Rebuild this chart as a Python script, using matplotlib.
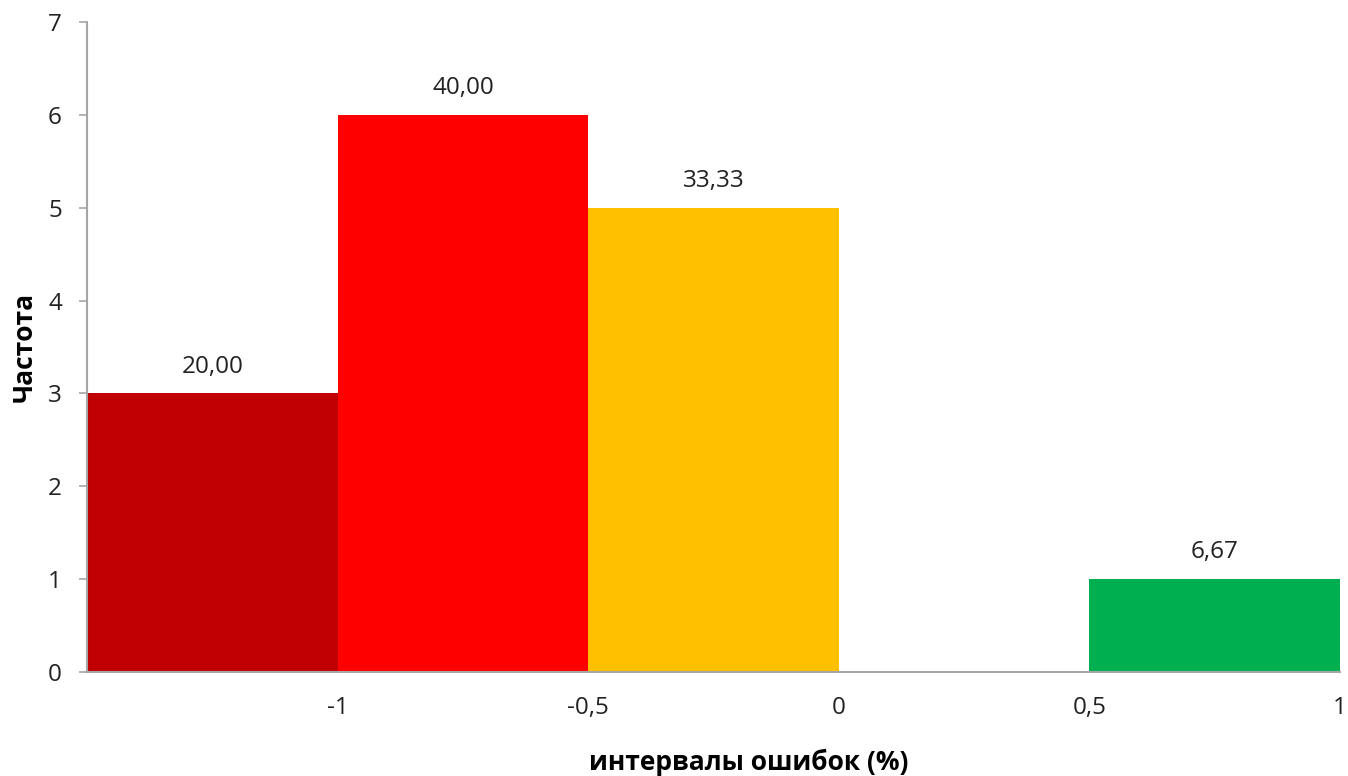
import matplotlib
matplotlib.use("Agg")
import matplotlib.pyplot as plt

bins = ["<-1", "-1..-0,5", "-0,5..0", "0..0,5", "0,5..1"]
freq = [3, 6, 5, 0, 1]
pct_labels = ["20,00", "40,00", "33,33", "", "6,67"]
edge_labels = ["-1", "-0,5", "0", "0,5", "1"]
colors = ["#C00000", "#FF0000", "#FFC000", "#FFFFFF", "#00B050"]

plt.rcParams['font.family'] = ['Open Sans', 'DejaVu Sans']

fig = plt.figure(figsize=(13.48, 7.76), dpi=100)
ax = fig.add_axes([87/1348, 1-672/776, (1340-87)/1348, (672-22)/776])

x = list(range(len(bins)))
ax.bar(x, freq, width=1.0, align='edge', color=colors, edgecolor='none')
for xi, f, lab in zip(x, freq, pct_labels):
    if lab:
        ax.text(xi + 0.5, f + 0.16, lab, ha='center', va='bottom', fontsize=17.5, color='#222222')

ax.set_xlim(0, len(bins))
ax.set_ylim(0, 7)
ax.set_yticks(range(0, 8))
ax.set_xticks([xi + 1 for xi in x])
ax.set_xticklabels(edge_labels)
ax.tick_params(axis='x', length=0, pad=17, labelsize=17.5, colors='#222222')
ax.tick_params(axis='y', length=6, width=1.2, color='#A6A6A6', pad=12, labelsize=17.5, labelcolor='#222222')
for s in ['top', 'right']:
    ax.spines[s].set_visible(False)
for s in ['left', 'bottom']:
    ax.spines[s].set_color('#A6A6A6')
    ax.spines[s].set_linewidth(1.5)

fig.text(749/1348, 1-762/776, "интервалы ошибок (%)", ha='center', va='center', fontsize=19, fontweight='bold')
fig.text(24/1348, 1-347/776, "Частота", ha='center', va='center', rotation=90, fontsize=19, fontweight='bold')

fig.savefig("out.png", dpi=100)
